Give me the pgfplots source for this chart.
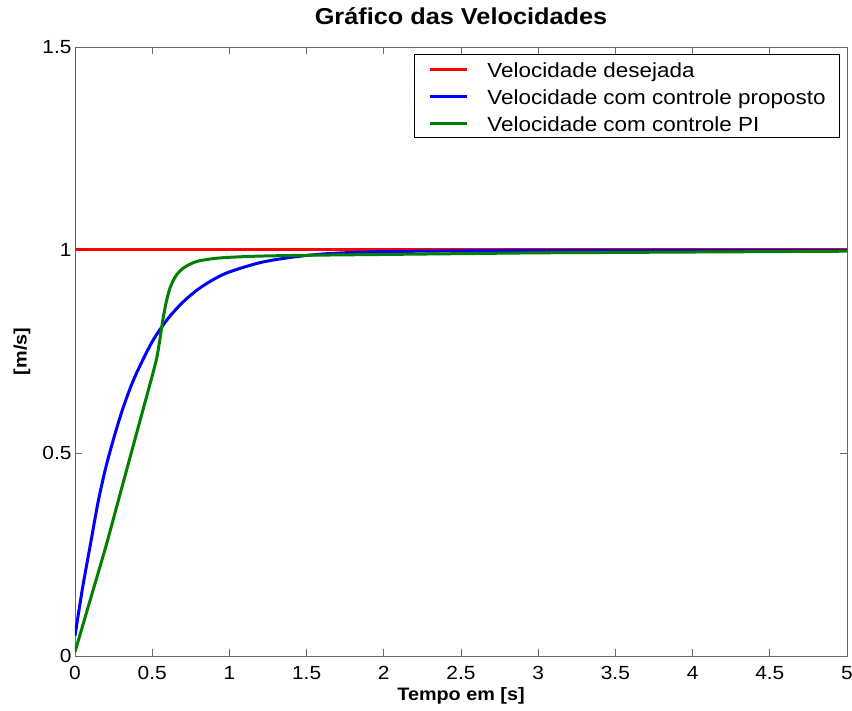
\documentclass[border=0pt]{standalone}
\usepackage{pgfplots}
\pgfplotsset{compat=1.18}
\usepackage{fontspec}
\setmainfont{Liberation Sans}[FakeStretch=1.1]
\definecolor{mgreen}{RGB}{0,128,0}
\definecolor{axgray}{RGB}{105,105,105}
\begin{document}
\begin{tikzpicture}[x=1pt,y=1pt]
\begin{axis}[
  name=main,
  scale only axis,
  width=772pt, height=609pt,
  xmin=0, xmax=5, ymin=0, ymax=1.5,
  xtick={0,0.5,...,5}, ytick={0,0.5,1,1.5},
  xticklabels={0,0.5,1,1.5,2,2.5,3,3.5,4,4.5,5},
  yticklabels={0,0.5,1,1.5},
  tick align=inside,
  major tick length=7pt,
  tick style={axgray, line width=0.9pt},
  axis line style={axgray, line width=0.9pt},
  ticklabel style={font=\fontsize{19}{22}\selectfont},
  xticklabel style={anchor=base, yshift=-24pt},
  yticklabel style={anchor=east},
  /pgf/number format/assume math mode=true,
  title={\bfseries Gráfico das Velocidades},
  title style={font=\fontsize{23}{27}\selectfont, at={(0.5,1)}, anchor=base, yshift=16pt},
  xlabel={\bfseries Tempo em [s]},
  ylabel={\bfseries [m/s]},
  label style={font=\fontsize{18}{22}\selectfont},
  xlabel style={at={(0.5,0)}, anchor=base, yshift=-45pt},
  ylabel style={at={(0,0.5)}, anchor=center, yshift=53pt},
  legend style={at={(1,1)}, anchor=north east, xshift=-7pt, yshift=-7pt,
    font=\fontsize{20.4}{24}\selectfont, draw=black, line width=0.9pt,
    inner xsep=14pt, inner ysep=6pt, row sep=9.5pt, column sep=19pt,
    nodes={inner sep=0pt, text height=17pt, text depth=0pt}},
  legend cell align=left,
  legend image code/.code={%
    \path[draw=none, fill=none] (0pt,0pt) -- (0pt,9pt);
    \draw[#1, line width=3pt] (0pt,0pt) -- (37pt,0pt);},
  clip=true,
]
% desired speed
\addplot[red, line width=3pt] coordinates {(0,1) (5,1)};
\addlegendentry{Velocidade desejada}
% speed with the proposed controller
\addplot[blue, line width=3pt, smooth] coordinates {
 (0,0.05) (0.05,0.17) (0.1,0.275) (0.15,0.38) (0.2,0.465) (0.25,0.535)
 (0.3,0.598) (0.35,0.652) (0.4,0.698) (0.5,0.774) (0.6,0.830) (0.7,0.872)
 (0.8,0.904) (0.9,0.928) (1.0,0.946) (1.2,0.969) (1.4,0.982) (1.6,0.990)
 (1.8,0.994) (2.0,0.996) (2.5,0.998) (3,0.999) (4,0.999) (5,0.999)};
\addlegendentry{Velocidade com controle proposto}
% speed with PI control
\addplot[mgreen, line width=3pt, smooth, tension=0.4] coordinates {
 (0,0.01) (0.1,0.14) (0.2,0.27) (0.3,0.41) (0.4,0.55) (0.5,0.69)
 (0.53,0.735) (0.55,0.78) (0.57,0.83) (0.59,0.87) (0.61,0.90) (0.63,0.92)
 (0.66,0.94) (0.70,0.955) (0.75,0.966) (0.8,0.973) (0.9,0.979) (1.0,0.982)
 (1.2,0.985) (1.5,0.987) (2,0.989) (2.5,0.991) (3,0.993) (3.5,0.994)
 (4,0.995) (4.5,0.996) (5,0.997)};
\addlegendentry{Velocidade com controle PI}
\end{axis}
\pgfresetboundingbox
\path (main.south west) ++(-75pt,-55pt) rectangle ++(852pt,711pt);
\end{tikzpicture}
\end{document}
